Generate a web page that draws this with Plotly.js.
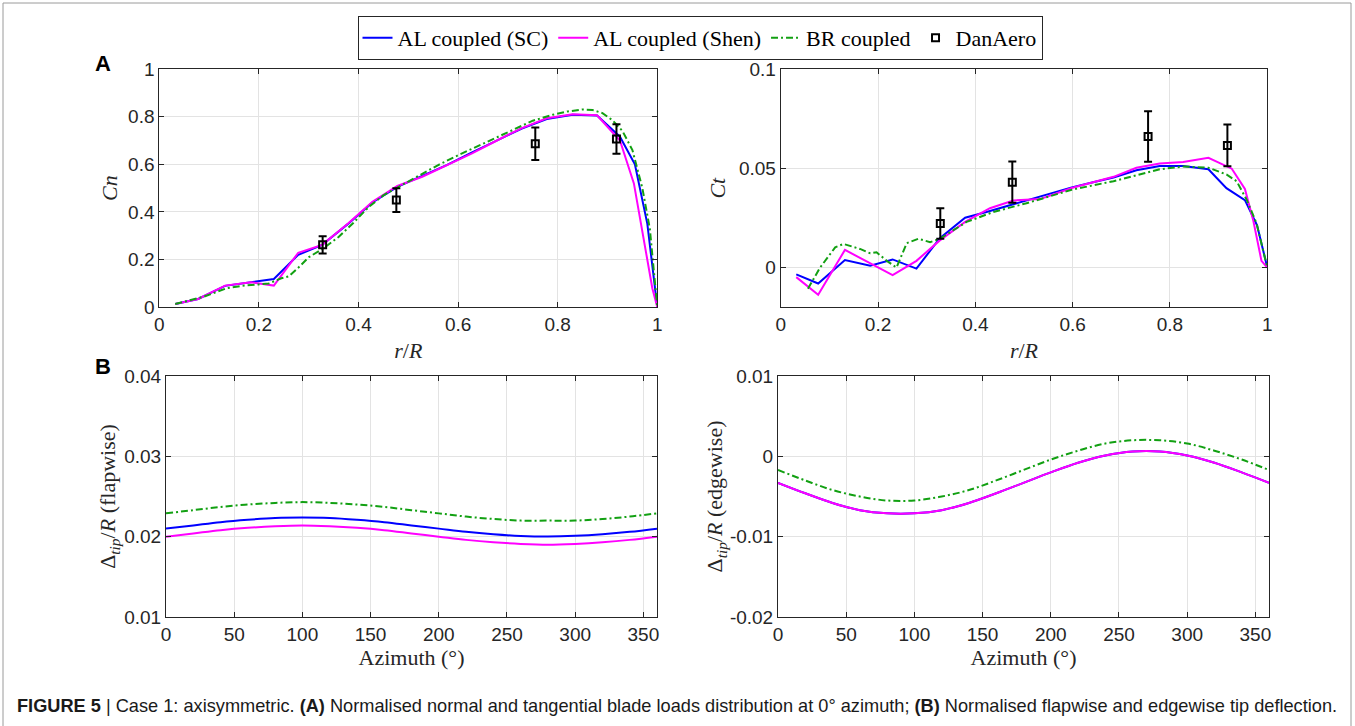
<!DOCTYPE html>
<html>
<head>
<meta charset="utf-8">
<script src="https://cdn.plot.ly/plotly-3.0.1.min.js"></script>
<style>
  html, body { margin: 0; padding: 0; background: #ffffff; }
  #chart { width: 1355px; height: 726px; }
</style>
</head>
<body>
<div id="chart"></div>
<script>
// ---------- Data ----------
// (A) Normal load coefficient Cn vs r/R
const rR_cn_sc = [0.032,0.078,0.132,0.184,0.23,0.279,0.327,0.379,0.428,0.478,0.528,0.578,0.628,0.678,0.728,0.778,0.83,0.879,0.925,0.955,0.98,1.0];
const cn_sc    = [0.014,0.035,0.090,0.105,0.119,0.220,0.262,0.350,0.440,0.505,0.550,0.598,0.650,0.700,0.750,0.790,0.808,0.805,0.716,0.600,0.350,0.0];

const rR_cn_sh = [0.032,0.078,0.132,0.184,0.23,0.279,0.327,0.379,0.428,0.478,0.528,0.578,0.628,0.678,0.728,0.778,0.83,0.879,0.925,0.953,0.975,0.99,1.0];
const cn_sh    = [0.014,0.035,0.091,0.105,0.091,0.229,0.262,0.352,0.443,0.509,0.548,0.597,0.646,0.700,0.752,0.793,0.810,0.806,0.700,0.520,0.250,0.080,0.0];

const rR_cn_br = [0.032,0.06,0.09,0.135,0.165,0.2,0.22,0.245,0.26,0.28,0.30,0.33,0.36,0.39,0.42,0.45,0.48,0.52,0.56,0.60,0.65,0.70,0.75,0.79,0.82,0.85,0.87,0.89,0.91,0.93,0.95,0.97,0.985,1.0];
const cn_br    = [0.014,0.028,0.045,0.080,0.090,0.096,0.100,0.122,0.130,0.168,0.210,0.248,0.295,0.355,0.420,0.470,0.505,0.552,0.597,0.638,0.687,0.734,0.783,0.808,0.822,0.830,0.828,0.815,0.785,0.740,0.660,0.500,0.330,0.0];

// (A) Tangential load coefficient Ct vs r/R
const rR_ct_sc = [0.032,0.077,0.132,0.184,0.23,0.279,0.327,0.379,0.423,0.478,0.533,0.598,0.642,0.684,0.731,0.779,0.827,0.879,0.916,0.954,0.979,1.0];
const ct_sc    = [-0.0034,-0.0080,0.0038,0.0009,0.0041,-0.0005,0.0148,0.0251,0.0280,0.0320,0.0358,0.0404,0.0430,0.0454,0.0490,0.0512,0.0512,0.0495,0.0400,0.0340,0.0213,0.0];

const rR_ct_sh = [0.032,0.077,0.132,0.184,0.23,0.279,0.327,0.379,0.43,0.478,0.533,0.598,0.642,0.684,0.731,0.779,0.827,0.879,0.927,0.954,0.971,0.988,1.0];
const ct_sh    = [-0.0048,-0.0137,0.0089,0.0020,-0.0038,0.0034,0.0137,0.0230,0.0299,0.0338,0.0345,0.0401,0.0430,0.0457,0.0503,0.0524,0.0532,0.0553,0.0498,0.0396,0.0239,0.0034,0.0];

const rR_ct_br = [0.056,0.081,0.112,0.129,0.163,0.184,0.197,0.218,0.238,0.259,0.283,0.307,0.327,0.382,0.437,0.505,0.598,0.684,0.779,0.827,0.879,0.916,0.937,0.958,0.978,1.0];
const ct_br    = [-0.0106,0.0,0.0102,0.0119,0.0094,0.0072,0.0077,0.0034,0.0,0.0123,0.0145,0.0128,0.0145,0.0230,0.0280,0.0324,0.0392,0.0435,0.0495,0.0509,0.0503,0.0469,0.0435,0.0340,0.0222,0.0];

// DanAero measurements
const dan_rR     = [0.328, 0.476, 0.755, 0.918];
const dan_cn     = [0.262, 0.450, 0.686, 0.706];
const dan_cn_err = [0.036, 0.050, 0.068, 0.062];
const dan_ct     = [0.0222, 0.0430, 0.0660, 0.0615];
const dan_ct_err = [0.0077, 0.0104, 0.0127, 0.0105];

// (B) Tip deflection vs azimuth
const azimuth = [0,20,40,60,80,100,120,140,160,180,200,220,240,260,280,300,320,340,360];
const flap_sc = [0.0210,0.0214,0.0218,0.0221,0.02232,0.02238,0.02232,0.0221,0.0218,0.0214,0.0210,0.0206,0.0203,0.02009,0.02002,0.0201,0.0203,0.0206,0.0210];
const flap_sh = [0.0200,0.0204,0.0208,0.0211,0.0213,0.0214,0.0213,0.0211,0.0208,0.0204,0.0200,0.0196,0.0193,0.0191,0.0190,0.0191,0.0193,0.0196,0.0200];
const flap_br = [0.0229,0.0233,0.0237,0.0240,0.0242,0.0243,0.0242,0.0240,0.0237,0.0233,0.0229,0.0225,0.0222,0.0220,0.0220,0.0220,0.0222,0.0225,0.0229];
const edge_sc = [-0.0033,-0.0046,-0.0058,-0.0067,-0.0071,-0.0071,-0.0067,-0.0058,-0.0046,-0.0033,-0.0020,-0.0008,0.0001,0.0006,0.0006,0.0001,-0.0008,-0.0020,-0.0033];
const edge_sh = [-0.0033,-0.0046,-0.0058,-0.0067,-0.0071,-0.0071,-0.0067,-0.0058,-0.0046,-0.0033,-0.0020,-0.0008,0.0001,0.0006,0.0006,0.0001,-0.0008,-0.0020,-0.0033];
const edge_br = [-0.0017,-0.0030,-0.0042,-0.0050,-0.0055,-0.0055,-0.0050,-0.0042,-0.0030,-0.0017,-0.0004,0.0007,0.0016,0.0020,0.0020,0.0016,0.0007,-0.0004,-0.0017];

// Tick labels
const rR_ticks = [0,0.2,0.4,0.6,0.8,1];
const rR_tickText = ['0','0.2','0.4','0.6','0.8','1'];
const cn_ticks = [0,0.2,0.4,0.6,0.8,1];
const cn_tickText = ['0','0.2','0.4','0.6','0.8','1'];
const ct_ticks = [0,0.05,0.1];
const ct_tickText = ['0','0.05','0.1'];
const az_ticks = [0,50,100,150,200,250,300,350];
const az_tickText = ['0','50','100','150','200','250','300','350'];
const flap_ticks = [0.01,0.02,0.03,0.04];
const flap_tickText = ['0.01','0.02','0.03','0.04'];
const edge_ticks = [-0.02,-0.01,0,0.01];
const edge_tickText = ['-0.02','-0.01','0','0.01'];

const seriesNames = ['AL coupled (SC)', 'AL coupled (Shen)', 'BR coupled', 'DanAero'];

// ---------- Styles ----------
const W = 1355, H = 726;
const BLUE = '#0000ff', MAG = '#ff00ff', GREEN = '#12a012', BLACK = '#000000';
const DASHDOT = '7px,3px,2px,3px';
const tickFont = {family: 'Liberation Sans, Arial, sans-serif', size: 19, color: '#262626'};
const titleFont = {family: 'Liberation Serif, Times New Roman, serif', size: 22, color: '#262626'};

function px2x(p) { return p / W; }
function px2y(p) { return 1 - p / H; }

function axisBase(extra) {
  return Object.assign({
    showgrid: true, gridcolor: '#e3e3e3', gridwidth: 1,
    zeroline: false, showline: true, linecolor: '#262626', linewidth: 1,
    mirror: 'ticks', ticks: 'inside', ticklen: 5, tickcolor: '#262626', tickwidth: 1,
    tickfont: tickFont, tickmode: 'array', fixedrange: true
  }, extra);
}

function line(x, y, name, color, xa, ya, dash, legend) {
  return {
    type: 'scatter', mode: 'lines', x: x, y: y, name: name,
    xaxis: xa, yaxis: ya, showlegend: !!legend, legendgroup: name,
    line: {color: color, width: 2, dash: dash || 'solid'}, hoverinfo: 'skip'
  };
}

function dan(x, y, err, xa, ya, legend) {
  return {
    type: 'scatter', mode: 'markers', x: x, y: y, name: seriesNames[3],
    xaxis: xa, yaxis: ya, showlegend: !!legend, legendgroup: 'dan',
    marker: {symbol: 'square-open', size: 7, color: BLACK, line: {color: BLACK, width: 2}},
    error_y: {type: 'data', array: err, visible: true, color: BLACK, thickness: 2, width: 4},
    hoverinfo: 'skip'
  };
}

function smooth(tr, dash) {
  tr.line = {color: tr.line.color, width: 2, shape: 'spline', dash: dash || 'solid'};
  return tr;
}

const traces = [
  line(rR_cn_sc, cn_sc, seriesNames[0], BLUE, 'x', 'y', 'solid', true),
  line(rR_cn_sh, cn_sh, seriesNames[1], MAG, 'x', 'y', 'solid', true),
  line(rR_cn_br, cn_br, seriesNames[2], GREEN, 'x', 'y', DASHDOT, true),
  dan(dan_rR, dan_cn, dan_cn_err, 'x', 'y', true),

  line(rR_ct_sc, ct_sc, seriesNames[0], BLUE, 'x2', 'y2'),
  line(rR_ct_sh, ct_sh, seriesNames[1], MAG, 'x2', 'y2'),
  line(rR_ct_br, ct_br, seriesNames[2], GREEN, 'x2', 'y2', DASHDOT),
  dan(dan_rR, dan_ct, dan_ct_err, 'x2', 'y2'),

  smooth(line(azimuth, flap_sc, seriesNames[0], BLUE, 'x3', 'y3')),
  smooth(line(azimuth, flap_sh, seriesNames[1], MAG, 'x3', 'y3')),
  smooth(line(azimuth, flap_br, seriesNames[2], GREEN, 'x3', 'y3'), DASHDOT),

  smooth(line(azimuth, edge_sc, seriesNames[0], BLUE, 'x4', 'y4')),
  smooth(line(azimuth, edge_sh, seriesNames[1], MAG, 'x4', 'y4')),
  smooth(line(azimuth, edge_br, seriesNames[2], GREEN, 'x4', 'y4'), DASHDOT)
];

const topY = [px2y(307.3), px2y(69)];
const botY = [px2y(617), px2y(376)];

const layout = {
  width: W, height: H,
  margin: {l: 0, r: 0, t: 0, b: 0, pad: 0},
  paper_bgcolor: '#ffffff', plot_bgcolor: '#ffffff',
  showlegend: true,
  legend: {
    orientation: 'h', x: px2x(700), xanchor: 'center', y: px2y(16), yanchor: 'top',
    font: {family: 'Liberation Serif, Times New Roman, serif', size: 22, color: '#000000'},
    bgcolor: '#ffffff', bordercolor: '#262626', borderwidth: 1,
    itemwidth: 30, tracegroupgap: 0, entrywidth: 0
  },
  xaxis: axisBase({domain: [px2x(159.3), px2x(657.3)], anchor: 'y', range: [0, 1],
    tickvals: rR_ticks, ticktext: rR_tickText,
    title: {text: '<i>r</i>/<i>R</i>', font: titleFont, standoff: 8}}),
  yaxis: axisBase({domain: topY, anchor: 'x', range: [0, 1],
    tickvals: cn_ticks, ticktext: cn_tickText,
    title: {text: '<i>Cn</i>', font: titleFont, standoff: 4}}),
  xaxis2: axisBase({domain: [px2x(780.7), px2x(1267.3)], anchor: 'y2', range: [0, 1],
    tickvals: rR_ticks, ticktext: rR_tickText,
    title: {text: '<i>r</i>/<i>R</i>', font: titleFont, standoff: 8}}),
  yaxis2: axisBase({domain: topY, anchor: 'x2', range: [-0.02, 0.1],
    tickvals: ct_ticks, ticktext: ct_tickText,
    title: {text: '<i>Ct</i>', font: titleFont, standoff: 7}}),
  xaxis3: axisBase({domain: [px2x(166), px2x(657)], anchor: 'y3', range: [0, 360],
    tickvals: az_ticks, ticktext: az_tickText,
    title: {text: 'Azimuth (°)', font: titleFont, standoff: 0}}),
  yaxis3: axisBase({domain: botY, anchor: 'x3', range: [0.01, 0.04],
    tickvals: flap_ticks, ticktext: flap_tickText,
    title: {text: 'Δ<sub><i>tip</i></sub>/<i>R</i> (flapwise)', font: titleFont, standoff: 2}}),
  xaxis4: axisBase({domain: [px2x(778), px2x(1269)], anchor: 'y4', range: [0, 360],
    tickvals: az_ticks, ticktext: az_tickText,
    title: {text: 'Azimuth (°)', font: titleFont, standoff: 0}}),
  yaxis4: axisBase({domain: botY, anchor: 'x4', range: [-0.02, 0.01],
    tickvals: edge_ticks, ticktext: edge_tickText,
    title: {text: 'Δ<sub><i>tip</i></sub>/<i>R</i> (edgewise)', font: titleFont, standoff: 0}}),
  annotations: [
    {xref: 'paper', yref: 'paper', x: px2x(93), y: px2y(63), xanchor: 'left', yanchor: 'middle',
     text: '<b>A</b>', showarrow: false, font: {family: 'Liberation Sans, Arial, sans-serif', size: 22, color: '#000'}},
    {xref: 'paper', yref: 'paper', x: px2x(93), y: px2y(366), xanchor: 'left', yanchor: 'middle',
     text: '<b>B</b>', showarrow: false, font: {family: 'Liberation Sans, Arial, sans-serif', size: 22, color: '#000'}},
    {xref: 'paper', yref: 'paper', x: px2x(15), y: px2y(706), xanchor: 'left', yanchor: 'middle',
     text: '<b>FIGURE 5</b> | Case 1: axisymmetric. <b>(A)</b> Normalised normal and tangential blade loads distribution at 0° azimuth; <b>(B)</b> Normalised flapwise and edgewise tip deflection.',
     showarrow: false, font: {family: 'Liberation Sans, Arial, sans-serif', size: 18.2, color: '#1a1a1a'}}
  ],
  shapes: [
    {type: 'rect', xref: 'paper', yref: 'paper', x0: px2x(3), x1: px2x(1351), y0: px2y(740), y1: px2y(3),
     line: {color: '#9a9a9a', width: 1}, fillcolor: 'rgba(0,0,0,0)', layer: 'below'}
  ]
};

Plotly.newPlot('chart', traces, layout, {displayModeBar: false, staticPlot: true});
</script>
</body>
</html>
